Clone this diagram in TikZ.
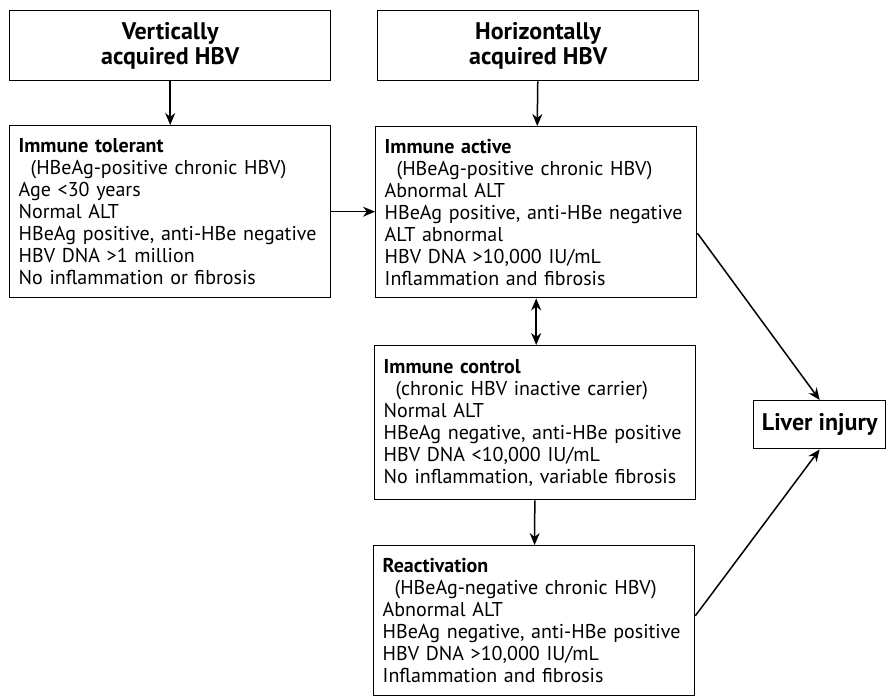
\documentclass[tikz,border=0pt]{standalone}
\usepackage{fontspec}
\setmainfont{PT Sans}
\usetikzlibrary{arrows.meta}
\usetikzlibrary{positioning}

\tikzset{
  origin/.style={draw, line width=1.4pt, anchor=north west, align=center,
    minimum width=321pt, minimum height=70pt,
    font=\bfseries\fontsize{24}{25}\selectfont},
  phase/.style={draw, line width=1.4pt, anchor=north west, align=left,
    inner xsep=9pt, text width=303pt, minimum width=321pt,
    font=\fontsize{20}{22}\selectfont},
  flow/.style={line width=1.5pt, -{Stealth[length=12pt,width=10pt]}},
  twoway/.style={line width=1.5pt, {Stealth[length=12pt,width=10pt]}-{Stealth[length=12pt,width=10pt]}},
}
\newcommand{\sub}[1]{\hspace*{0.6em}#1}

\begin{document}
\begin{tikzpicture}[x=1pt,y=-1pt]
    \useasboundingbox (0,0) rectangle (886,698);
    % sources of infection
    \node[origin] (vert) at (9,10) {Vertically\\acquired HBV};
    \node[origin] (horiz) at (377,10) {Horizontally\\acquired HBV};
    % phases
    \node[phase, minimum height=172pt] (tolerant) at (9,125)
      {\textbf{Immune tolerant}\\\sub{(HBeAg-positive chronic HBV)}\\Age <30 years\\Normal ALT\\HBeAg positive, anti-HBe negative\\HBV DNA >1 million\\No inflammation or fibrosis};
    \node[phase, minimum height=171pt] (active) at (375,126)
      {\textbf{Immune active}\\\sub{(HBeAg-positive chronic HBV)}\\Abnormal ALT\\HBeAg positive, anti-HBe negative\\ALT abnormal\\HBV DNA >10,000 IU/mL\\Inflammation and fibrosis};
    \node[phase, minimum height=154pt] (control) at (374,345)
      {\textbf{Immune control}\\\sub{(chronic HBV inactive carrier)}\\Normal ALT\\HBeAg negative, anti-HBe positive\\HBV DNA <10,000 IU/mL\\No inflammation, variable fibrosis};
    \node[phase, minimum height=150pt] (react) at (373,545)
      {\textbf{Reactivation}\\\sub{(HBeAg-negative chronic HBV)}\\Abnormal ALT\\HBeAg negative, anti-HBe positive\\HBV DNA >10,000 IU/mL\\Inflammation and fibrosis};
    \node[origin, minimum width=132pt, minimum height=48pt] (liver) at (753,400) {Liver injury};
    % connectors
    \draw[flow] (vert) -- (tolerant);
    \draw[flow] (horiz) -- (active);
    \draw[flow] (tolerant) -- (tolerant -| active.west);
    \draw[twoway] (active.south) -- (active.south |- control.north);
    \draw[flow] (control) -- (react);
    \draw[flow] ([yshift=-21pt]active.east) -- (liver.north);
    \draw[flow] ([yshift=5pt]react.east) -- (liver.south);
\end{tikzpicture}
\end{document}
